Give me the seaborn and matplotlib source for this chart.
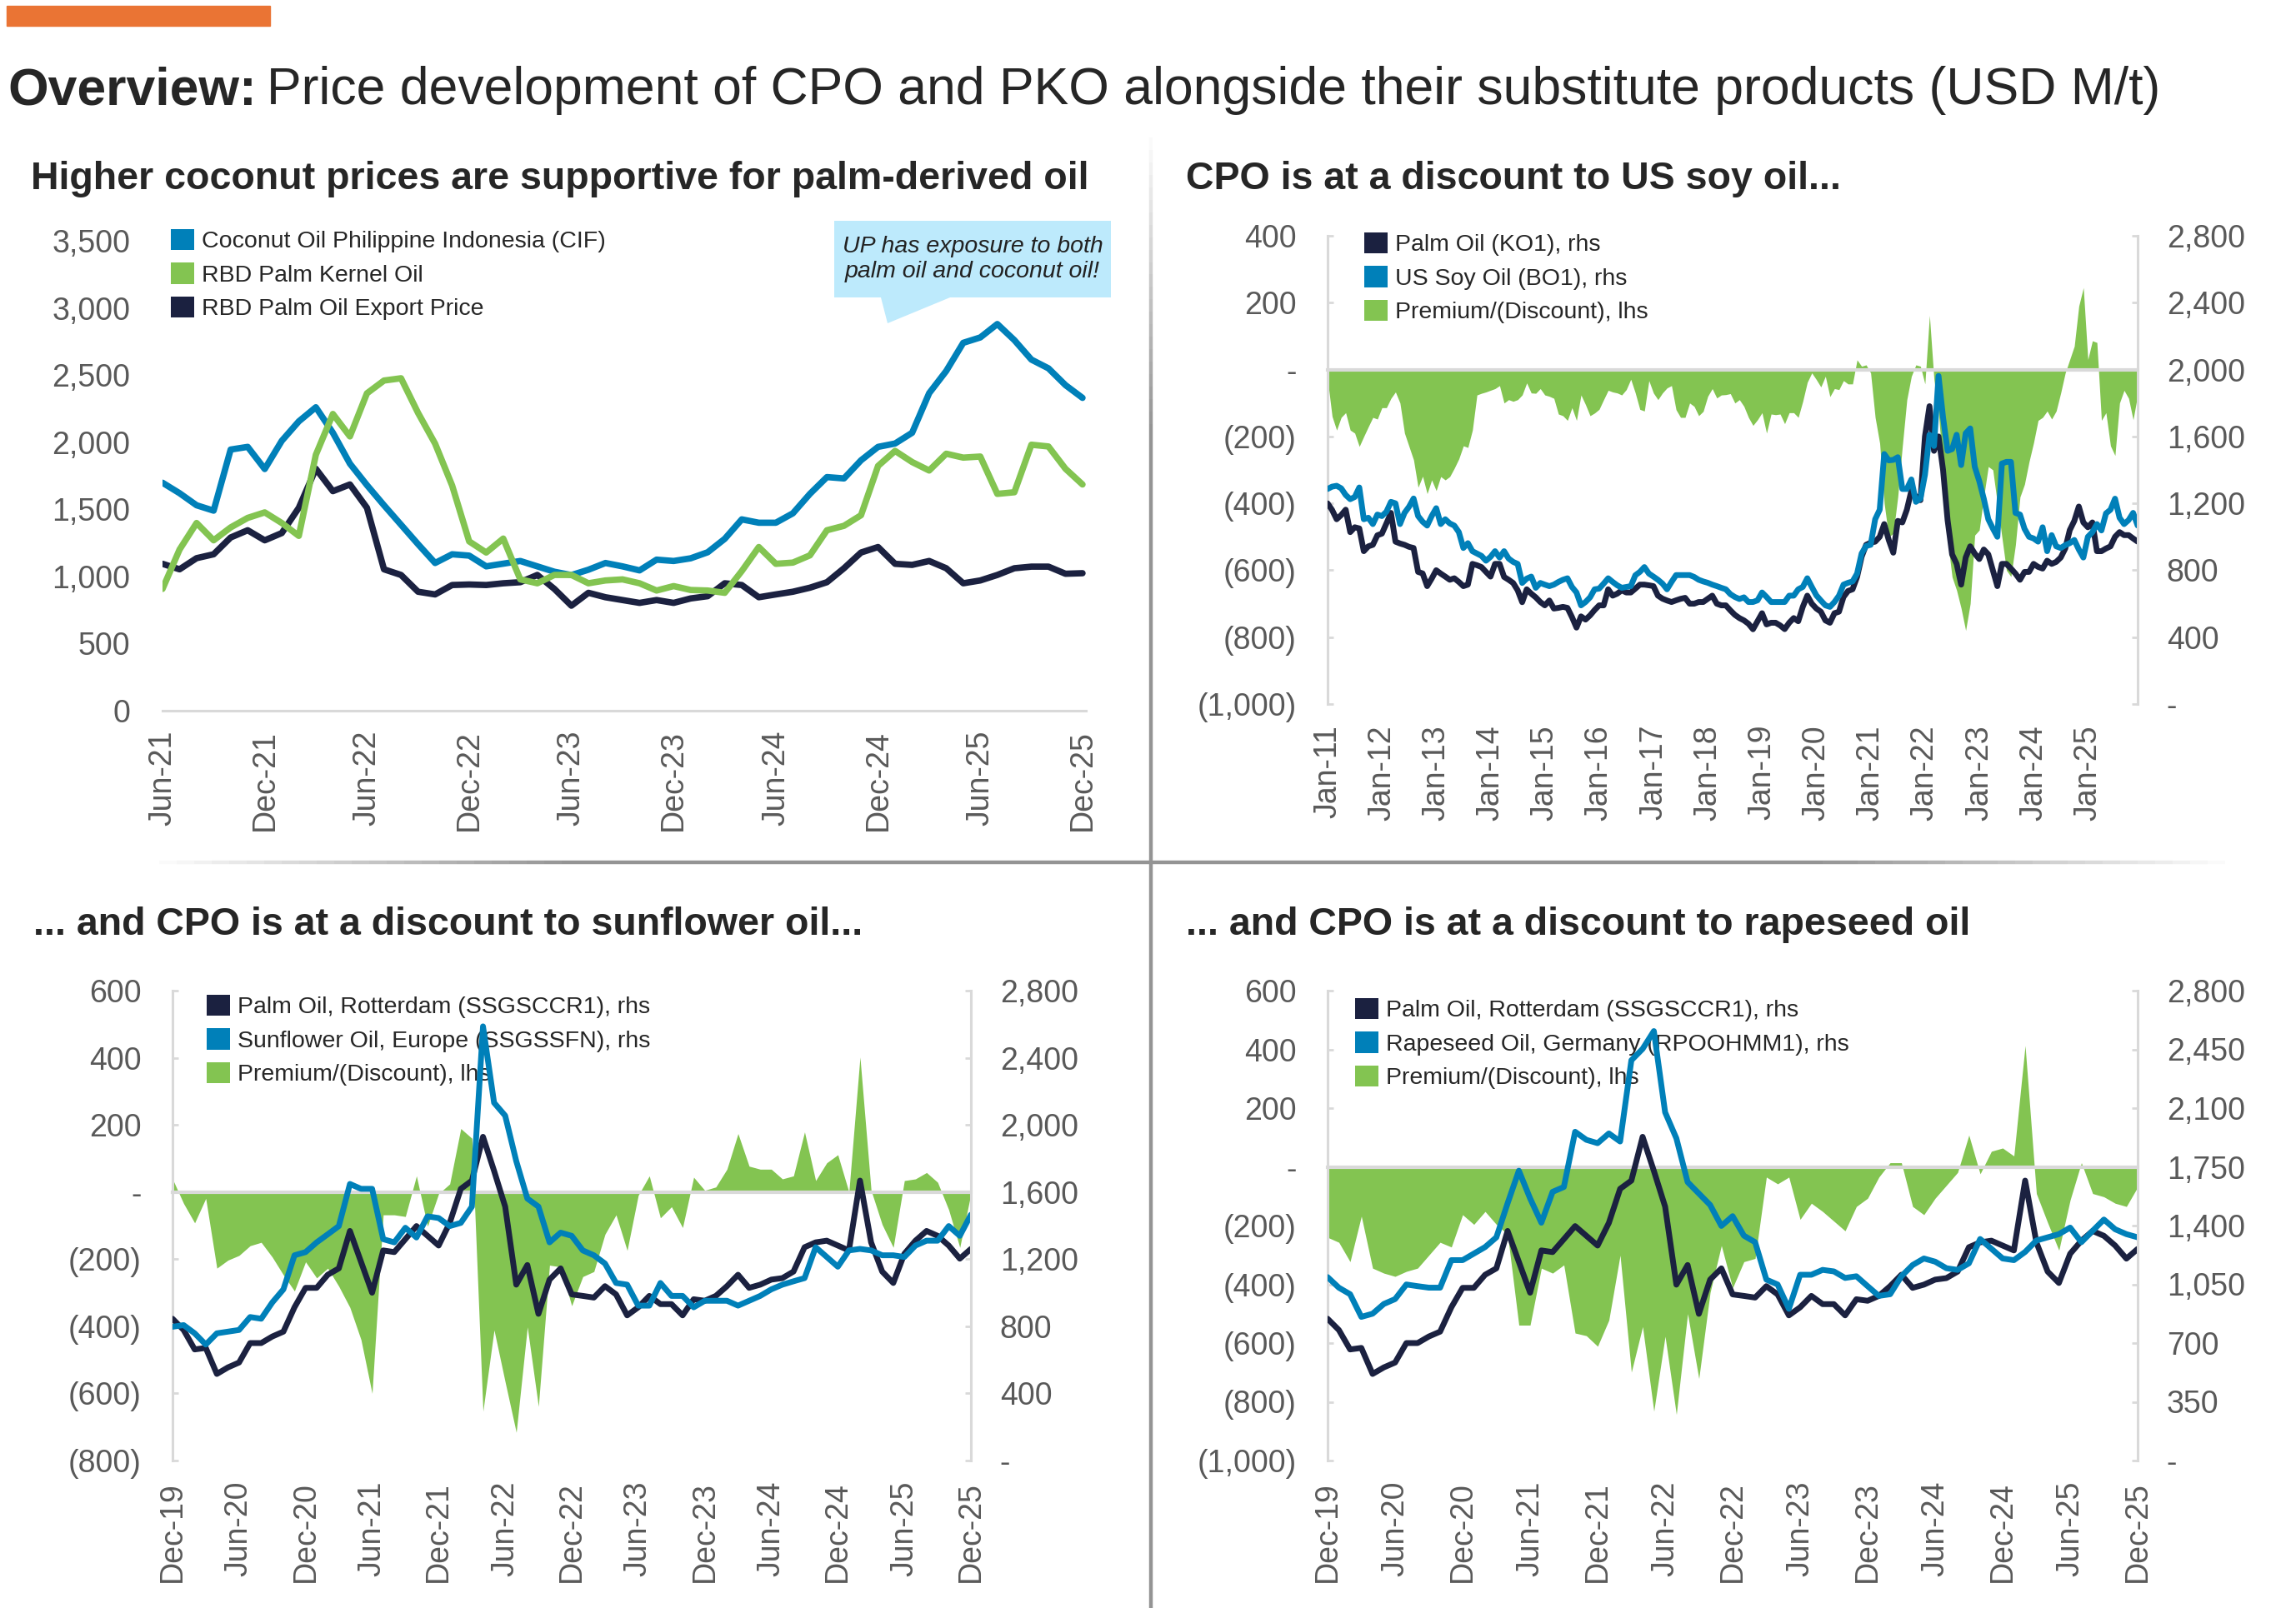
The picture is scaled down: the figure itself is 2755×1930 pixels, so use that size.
import numpy as np
import matplotlib
matplotlib.use('Agg')
import matplotlib.pyplot as plt
import seaborn as sns
from matplotlib.patches import Patch, Rectangle, Polygon
from matplotlib.collections import LineCollection
from matplotlib.ticker import FuncFormatter

sns.set_style('white')
plt.rcParams['font.family'] = ['Liberation Sans', 'DejaVu Sans']

# ---------------- data ----------------
# top left: Jun-21 .. Dec-25, monthly
tl_ticks = ['Jun-21', 'Dec-21', 'Jun-22', 'Dec-22', 'Jun-23', 'Dec-23', 'Jun-24', 'Dec-24', 'Jun-25', 'Dec-25']
coconut = [1698, 1620, 1530, 1490, 1945, 1965, 1800, 2010, 2155, 2260,
           2070, 1840, 1680, 1530, 1385, 1240, 1100, 1165, 1155, 1075,
           1095, 1115, 1075, 1035, 1010, 1050, 1100, 1075, 1045, 1125,
           1115, 1135, 1180, 1280, 1425, 1400, 1400, 1470, 1615, 1740,
           1730, 1865, 1965, 1990, 2070, 2365, 2530, 2740, 2780, 2880,
           2760, 2615, 2550, 2425, 2330]
kernel = [907, 1200, 1398, 1269, 1365, 1436, 1477, 1398, 1302, 1906,
          2210, 2043, 2364, 2459, 2476, 2218, 1989, 1677, 1261, 1178,
          1282, 978, 949, 1011, 1011, 949, 970, 978, 949, 895,
          928, 899, 895, 878, 1040, 1219, 1094, 1103, 1157, 1344,
          1377, 1456, 1823, 1935, 1852, 1789, 1914, 1885, 1893, 1615,
          1627, 1981, 1968, 1802, 1685]
palm_export = [1094, 1053, 1136, 1165, 1290, 1344, 1269, 1323, 1511, 1802,
               1635, 1685, 1511, 1053, 1011, 886, 866, 936, 940, 936,
               949, 957, 1011, 907, 782, 878, 845, 824, 803, 824,
               803, 836, 853, 949, 936, 845, 866, 886, 916, 957,
               1061, 1178, 1219, 1094, 1086, 1115, 1061, 949, 970, 1011,
               1061, 1073, 1073, 1020, 1024]

# top right: Jan-11 .. Dec-25, monthly
tr_ticks = ['Jan-11', 'Jan-12', 'Jan-13', 'Jan-14', 'Jan-15', 'Jan-16', 'Jan-17', 'Jan-18',
            'Jan-19', 'Jan-20', 'Jan-21', 'Jan-22', 'Jan-23', 'Jan-24', 'Jan-25']
palm_ko = [1200, 1160, 1105, 1130, 1162, 1028, 1057, 1050, 914, 943, 952, 1009,
           1019, 1080, 1143, 971, 960, 952, 940, 933, 790, 781, 705, 750,
           800, 780, 762, 743, 752, 730, 705, 714, 838, 830, 819, 790,
           762, 838, 838, 760, 743, 724, 680, 609, 686, 660, 638, 610,
           590, 619, 571, 575, 581, 575, 520, 457, 524, 505, 530, 562,
           590, 590, 686, 648, 660, 680, 667, 667, 690, 714, 714, 710,
           705, 648, 630, 619, 610, 620, 629, 635, 600, 600, 610, 610,
           629, 648, 600, 590, 590, 560, 533, 514, 500, 480, 447, 495,
           543, 476, 486, 486, 470, 448, 486, 514, 495, 581, 648, 600,
           571, 552, 500, 486, 543, 552, 640, 676, 686, 760, 880, 952,
           965, 971, 1000, 1076, 981, 905, 1095, 1086, 1162, 1276, 1240, 1219,
           1600, 1781, 1514, 1600, 1400, 1100, 895, 838, 714, 876, 943, 900,
           867, 924, 895, 800, 705, 838, 838, 810, 780, 743, 790, 790,
           838, 820, 810, 857, 838, 850, 876, 930, 1040, 1095, 1181, 1086,
           1057, 1086, 914, 914, 930, 943, 1000, 1028, 1010, 1010, 990, 971]
soy_bo = [1286, 1300, 1305, 1290, 1250, 1225, 1238, 1295, 1105, 1114, 1076, 1133,
          1124, 1150, 1209, 1200, 1076, 1143, 1180, 1229, 1124, 1090, 1067, 1124,
          1171, 1076, 1105, 1080, 1067, 1028, 933, 962, 914, 900, 886, 857,
          880, 914, 876, 914, 870, 850, 838, 724, 750, 762, 695, 724,
          714, 705, 714, 730, 743, 752, 700, 667, 590, 610, 638, 686,
          690, 720, 752, 730, 710, 695, 700, 705, 770, 790, 819, 780,
          762, 743, 720, 686, 730, 771, 771, 771, 771, 760, 743, 733,
          725, 714, 705, 695, 686, 657, 640, 628, 638, 610, 610, 620,
          667, 640, 610, 610, 610, 610, 648, 648, 686, 700, 752, 700,
          650, 619, 590, 581, 610, 648, 714, 725, 733, 780, 900, 945,
          952, 1105, 1162, 1495, 1457, 1460, 1476, 1286, 1286, 1343, 1209, 1228,
          1371, 1610, 1543, 1962, 1714, 1514, 1524, 1610, 1429, 1619, 1648, 1419,
          1333, 1228, 1105, 1050, 1000, 1438, 1448, 1448, 1143, 1133, 1048, 1000,
          990, 971, 1057, 914, 1010, 943, 933, 950, 962, 981, 924, 876,
          1000, 1028, 1076, 1038, 1140, 1162, 1228, 1114, 1076, 1100, 1143, 1067]
prem_soy = [-30, -140, -181, -143, -129, -181, -190, -230, -200, -171, -143, -148,
            -114, -114, -86, -67, -100, -190, -230, -270, -352, -319, -371, -330,
            -362, -320, -330, -320, -295, -267, -228, -233, -181, -76, -71, -67,
            -62, -57, -48, -100, -90, -95, -90, -76, -40, -70, -71, -57,
            -76, -80, -86, -133, -138, -152, -114, -152, -76, -105, -138, -130,
            -119, -90, -62, -67, -70, -76, -60, -29, -70, -119, -124, -33,
            -70, -90, -70, -55, -48, -120, -143, -143, -100, -110, -138, -125,
            -80, -57, -85, -76, -75, -72, -100, -90, -110, -143, -167, -150,
            -129, -190, -133, -135, -133, -162, -129, -129, -143, -95, -38, -10,
            -30, -52, -20, -81, -57, -60, -33, -43, -43, 29, 10, 14,
            -10, -143, -220, -400, -500, -490, -380, -230, -90, -20, 14, 10,
            -43, 162, -30, -130, -300, -510, -620, -660, -714, -780, -700, -495,
            -480, -380, -290, -300, -400, -500, -600, -619, -524, -381, -343, -276,
            -219, -152, -143, -124, -148, -124, -70, -10, 30, 70, 190, 245,
            30, 86, 81, -152, -129, -228, -257, -100, -62, -86, -150, -76]

# bottom panels: Dec-19 .. Dec-25, monthly
bt_ticks = ['Dec-19', 'Jun-20', 'Dec-20', 'Jun-21', 'Dec-21', 'Jun-22', 'Dec-22',
            'Jun-23', 'Dec-23', 'Jun-24', 'Dec-24', 'Jun-25', 'Dec-25']
palm_rdam = [845, 778, 662, 671, 516, 555, 584, 700, 700, 739,
             768, 913, 1029, 1029, 1107, 1145, 1368, 1184, 1000, 1252,
             1242, 1319, 1397, 1339, 1281, 1416, 1619, 1668, 1929, 1726,
             1513, 1048, 1165, 874, 1078, 1145, 990, 981, 971, 1039,
             990, 865, 913, 981, 932, 932, 865, 961, 952, 981,
             1039, 1107, 1029, 1048, 1078, 1087, 1126, 1271, 1300, 1310,
             1281, 1252, 1668, 1300, 1126, 1058, 1232, 1310, 1368, 1339,
             1281, 1203, 1261]
sunflower = [797, 807, 758, 691, 758, 768, 778, 855, 845, 942,
             1020, 1223, 1242, 1300, 1348, 1397, 1648, 1619, 1619, 1319,
             1300, 1387, 1329, 1455, 1445, 1397, 1416, 1513, 2587, 2132,
             2055, 1784, 1561, 1513, 1300, 1358, 1339, 1252, 1223, 1174,
             1058, 1048, 923, 923, 1058, 981, 981, 913, 952, 952,
             952, 923, 952, 981, 1020, 1048, 1068, 1087, 1271, 1213,
             1155, 1252, 1261, 1252, 1223, 1223, 1213, 1281, 1310, 1310,
             1397, 1339, 1465]
prem_sun = [39, -34, -92, -19, -227, -203, -189, -160, -150, -194,
            -247, -295, -208, -256, -227, -281, -344, -440, -600, -68,
            -68, -73, 48, -102, -5, 24, 189, 160, -653, -411,
            -566, -716, -402, -639, -218, -223, -339, -252, -237, -126,
            -68, -174, -10, 48, -77, -44, -106, 44, 5, 15,
            68, 174, 77, 68, 68, 39, 48, 179, 34, 87,
            111, 0, 402, 5, -97, -165, 34, 39, 58, 29,
            -53, -165, -5]
rapeseed = [1093, 1030, 991, 856, 875, 933, 962, 1049, 1039, 1030,
            1030, 1194, 1194, 1233, 1272, 1330, 1533, 1727, 1562, 1417,
            1601, 1630, 1959, 1911, 1891, 1949, 1901, 2385, 2453, 2559,
            2075, 1920, 1659, 1591, 1523, 1398, 1456, 1340, 1301, 1078,
            1049, 904, 1107, 1107, 1136, 1127, 1088, 1098, 1039, 981,
            991, 1098, 1165, 1204, 1185, 1146, 1136, 1175, 1320, 1262,
            1204, 1194, 1243, 1311, 1330, 1349, 1388, 1301, 1369, 1436,
            1378, 1349, 1330]
prem_rape = [-240, -257, -323, -168, -345, -362, -373, -356, -345, -301,
             -257, -273, -163, -196, -152, -196, -230, -539, -539, -345,
             -362, -334, -566, -575, -611, -522, -301, -699, -544, -832,
             -577, -843, -500, -721, -428, -268, -412, -323, -312, -35,
             -58, -35, -179, -124, -152, -185, -218, -135, -107, -35,
             14, 14, -135, -163, -107, -63, -19, 108, -24, 53,
             64, 37, 413, -91, -190, -284, -113, 14, -91, -102,
             -124, -135, -69]

# ---------------- style ----------------
W, H = 2755, 1930
NAVY = '#1B2140'
BLUE = '#0080B9'
GREEN = '#83C451'
GRID = '#D9D9D9'
TICK = '#595959'
ORANGE = '#EA7434'
CALLOUT = '#BDEAFC'


def fx(x):
    return x / W


def fy(y):
    return 1 - y / H


def rect(x0, y0, x1, y1):
    return [fx(x0), fy(y1), (x1 - x0) / W, (y1 - y0) / H]


def acct(v, pos=None):
    if v == 0:
        return '-'
    if v < 0:
        return f'({abs(v):,.0f})'
    return f'{v:,.0f}'


def dash_zero(v, pos=None):
    return '-' if v == 0 else f'{v:,.0f}'


def fade_line(x0, y0, x1, y1, fade_start=True, fade_end=True):
    t = np.linspace(0, 1, 120)
    pts = np.column_stack([fx(x0 + (x1 - x0) * t), fy(y0 + (y1 - y0) * t)])
    segs = np.stack([pts[:-1], pts[1:]], axis=1)
    tm = t[:-1]
    a = np.ones_like(tm)
    if fade_start:
        a = np.minimum(a, tm * 5)
    if fade_end:
        a = np.minimum(a, (1 - tm) * 5)
    cols = [(0.58, 0.58, 0.58, float(np.clip(v, 0, 1))) for v in a]
    fig.add_artist(LineCollection(segs, colors=cols, linewidths=3.2, transform=fig.transFigure))


def add_legend(ax, entries, left, top):
    handles = [Patch(facecolor=c, edgecolor='none', label=l) for l, c in entries]
    ax.legend(handles=handles, loc='upper left', bbox_to_anchor=(fx(left), fy(top)),
              bbox_transform=fig.transFigure, frameon=False, fontsize=20.5,
              handlelength=1.0, handleheight=1.0, handletextpad=0.3,
              labelspacing=0.42, borderpad=0, borderaxespad=0)


fig = plt.figure(figsize=(W / 100, H / 100), dpi=100)

# header
fig.add_artist(Rectangle((fx(8), fy(31)), 316 / W, 24 / H, color=ORANGE, transform=fig.transFigure))
t1 = fig.text(fx(9), fy(125), 'Overview:', fontsize=45, fontweight='bold', va='baseline', ha='left')
fig.canvas.draw()
bb = t1.get_window_extent()
fig.text(bb.x1 / W + 12 / W, fy(125),
         'Price development of CPO and PKO alongside their substitute products (USD M/t)',
         fontsize=45, va='baseline', ha='left')

# separators
fade_line(1381, 150, 1381, 1930, fade_start=True, fade_end=False)
fade_line(170, 1035, 2670, 1035)

# ---------------- top left ----------------
ax = fig.add_axes(rect(195, 289, 1303, 853))
x = np.arange(len(coconut))
sns.lineplot(x=x, y=coconut, ax=ax, color=BLUE, linewidth=5.5)
sns.lineplot(x=x, y=palm_export, ax=ax, color=NAVY, linewidth=5.5)
sns.lineplot(x=x, y=kernel, ax=ax, color=GREEN, linewidth=5.5)
ax.set_xlim(0, 54.2)
ax.set_ylim(0, 3500)
ax.set_yticks(np.arange(0, 3501, 500))
ax.yaxis.set_major_formatter(FuncFormatter(lambda v, p: f'{v:,.0f}'))
ax.set_xticks(np.arange(0, len(coconut), 6), labels=tl_ticks)
ax.tick_params(axis='y', length=0, labelsize=27, labelcolor=TICK, pad=28)
ax.tick_params(axis='x', direction='out', length=8, width=2, color=GRID,
               labelsize=27, labelcolor=TICK, labelrotation=90, pad=9)
for s in ['top', 'right', 'left']:
    ax.spines[s].set_visible(False)
ax.spines['bottom'].set_color(GRID)
ax.spines['bottom'].set_linewidth(2.2)
ax.set_xlabel('')
ax.set_ylabel('')
add_legend(ax, [('Coconut Oil Philippine Indonesia (CIF)', BLUE),
                ('RBD Palm Kernel Oil', GREEN),
                ('RBD Palm Oil Export Price', NAVY)], 205, 275)
fig.text(fx(37), fy(227), 'Higher coconut prices are supportive for palm-derived oil',
         fontsize=33.5, fontweight='bold', va='baseline', ha='left')

# callout bubble
bubble = [(1001, 265), (1333, 265), (1333, 357), (1140, 357), (1065, 388), (1057, 357), (1001, 357)]
fig.add_artist(Polygon([(fx(a), fy(b)) for a, b in bubble], closed=True,
                       facecolor=CALLOUT, edgecolor='none', transform=fig.transFigure))
fig.text(fx(1167), fy(311), 'UP has exposure to both\npalm oil and coconut oil!',
         fontsize=20.5, style='italic', color='#222222', ha='center', va='center',
         multialignment='center', linespacing=1.2)


# ---------------- dual axis panels ----------------
def dual_panel(box, prem, lines, names, lhs_ticks, rhs_ticks, x_ticks, tick_step,
               title, title_x, title_y, leg_x, leg_y):
    ax = fig.add_axes(box)
    x = np.arange(len(prem))
    ax.fill_between(x, prem, 0, color=GREEN, linewidth=0)
    ax.set_xlim(0, len(prem) - 1)
    ax.set_ylim(lhs_ticks[0], lhs_ticks[-1])
    ax.set_yticks(lhs_ticks)
    ax.yaxis.set_major_formatter(FuncFormatter(acct))
    ax.tick_params(axis='y', direction='in', length=5, width=2, color=GRID,
                   labelsize=27, labelcolor=TICK, pad=27)
    ax.set_xticks(np.arange(0, len(prem), tick_step))
    ax.tick_params(axis='x', direction='out', length=9, width=2, color=GRID, labelbottom=False)
    for s in ['top', 'right']:
        ax.spines[s].set_visible(False)
    ax.spines['left'].set_color(GRID)
    ax.spines['left'].set_linewidth(2.2)
    ax.spines['bottom'].set_position(('data', 0))
    ax.spines['bottom'].set_color(GRID)
    ax.spines['bottom'].set_linewidth(3)

    sec = ax.secondary_xaxis('bottom')
    sec.set_xticks(np.arange(0, tick_step * len(x_ticks), tick_step), labels=x_ticks)
    sec.tick_params(axis='x', length=0, labelsize=27, labelcolor=TICK, labelrotation=90, pad=18)
    for s in sec.spines.values():
        s.set_visible(False)

    ax2 = ax.twinx()
    for vals, col in zip(lines, [NAVY, BLUE]):
        sns.lineplot(x=x, y=vals, ax=ax2, color=col, linewidth=5)
    ax2.set_ylim(rhs_ticks[0], rhs_ticks[-1])
    ax2.set_yticks(rhs_ticks)
    ax2.yaxis.set_major_formatter(FuncFormatter(dash_zero))
    ax2.tick_params(axis='y', direction='in', length=5, width=2, color=GRID,
                    labelsize=27, labelcolor=TICK, pad=25)
    for s in ['top', 'left', 'bottom']:
        ax2.spines[s].set_visible(False)
    ax2.spines['right'].set_color(GRID)
    ax2.spines['right'].set_linewidth(2.2)
    ax2.set_ylabel('')
    ax.set_xlabel('')
    add_legend(ax, [(names[0], NAVY), (names[1], BLUE), ('Premium/(Discount), lhs', GREEN)], leg_x, leg_y)
    fig.text(fx(title_x), fy(title_y), title, fontsize=33.5, fontweight='bold', va='baseline', ha='left')


dual_panel(rect(1593, 283, 2565, 845), prem_soy, [palm_ko, soy_bo],
           ['Palm Oil (KO1), rhs', 'US Soy Oil (BO1), rhs'],
           np.arange(-1000, 401, 200), np.arange(0, 2801, 400), tr_ticks, 12,
           'CPO is at a discount to US soy oil...', 1423, 227, 1637, 279)

dual_panel(rect(207, 1189, 1165, 1753), prem_sun, [palm_rdam, sunflower],
           ['Palm Oil, Rotterdam (SSGSCCR1), rhs', 'Sunflower Oil, Europe (SSGSSFN), rhs'],
           np.arange(-800, 601, 200), np.arange(0, 2801, 400), bt_ticks, 6,
           '... and CPO is at a discount to sunflower oil...', 40, 1122, 248, 1194)

dual_panel(rect(1593, 1189, 2565, 1753), prem_rape, [palm_rdam, rapeseed],
           ['Palm Oil, Rotterdam (SSGSCCR1), rhs', 'Rapeseed Oil, Germany (RPOOHMM1), rhs'],
           np.arange(-1000, 601, 200), np.arange(0, 2801, 350), bt_ticks, 6,
           '... and CPO is at a discount to rapeseed oil', 1423, 1122, 1626, 1198)

fig.savefig('out.png', dpi=100)
